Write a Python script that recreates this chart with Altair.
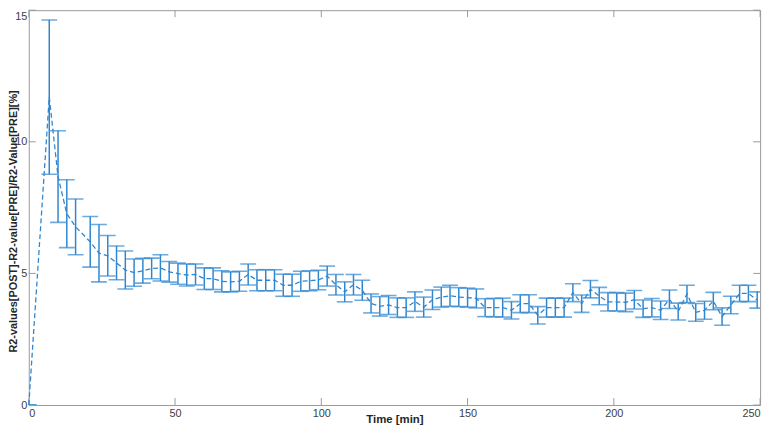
import altair as alt
import pandas as pd

times = [0, 7, 10, 13, 16, 21, 24, 27, 30, 33, 36, 39, 42, 45, 48, 51, 54, 57, 60, 63,
         66, 69, 72, 75, 78, 81, 84, 87, 90, 93, 96, 99, 102, 105, 108, 111, 114, 117,
         120, 123, 126, 129, 132, 135, 138, 141, 144, 147, 150, 153, 156, 159, 162, 165,
         168, 171, 174, 177, 180, 183, 186, 189, 192, 195, 198, 201, 204, 207, 210, 213,
         216, 219, 222, 225, 228, 231, 234, 237, 240, 243, 246, 249]

means = [0, 11.7, 8.68, 7.27, 6.77, 6.2, 5.77, 5.67, 5.4, 5.13, 5.03, 5.1, 5.19, 5.21,
         5.06, 4.99, 4.94, 4.96, 4.8, 4.8, 4.7, 4.68, 4.7, 4.96, 4.74, 4.74, 4.74, 4.55,
         4.55, 4.7, 4.72, 4.75, 4.9, 4.57, 4.3, 4.57, 4.36, 3.86, 3.75, 3.8, 3.7, 3.7,
         3.93, 3.72, 4.0, 4.1, 4.15, 4.1, 4.08, 4.05, 3.7, 3.7, 3.7, 3.6, 3.85, 3.85,
         3.41, 3.7, 3.7, 3.7, 4.27, 3.85, 4.4, 4.14, 3.92, 3.92, 3.9, 4.0, 3.66, 3.7,
         3.6, 4.02, 3.55, 4.22, 3.52, 3.6, 3.95, 3.36, 3.8, 4.24, 4.24, 3.99]

errs = [0, 2.93, 1.74, 1.29, 1.06, 0.96, 1.09, 0.77, 0.64, 0.72, 0.52, 0.47, 0.39, 0.5,
        0.39, 0.4, 0.42, 0.4, 0.41, 0.41, 0.4, 0.38, 0.38, 0.4, 0.4, 0.4, 0.4, 0.42,
        0.42, 0.38, 0.38, 0.37, 0.38, 0.39, 0.38, 0.39, 0.38, 0.36, 0.37, 0.36, 0.37, 0.37,
        0.37, 0.38, 0.37, 0.38, 0.4, 0.36, 0.36, 0.36, 0.34, 0.35, 0.36, 0.33, 0.34, 0.34,
        0.33, 0.36, 0.36, 0.36, 0.34, 0.33, 0.33, 0.33, 0.35, 0.35, 0.35, 0.35, 0.33, 0.35,
        0.35, 0.35, 0.32, 0.33, 0.34, 0.34, 0.33, 0.33, 0.33, 0.31, 0.31, 0.31]

x_ticks = [0, 50, 100, 150, 200, 250]
y_ticks = [0, 5, 10, 15]

X_TITLE = "Time [min]"
Y_TITLE = "R2-values[POST]-R2-value[PRE]/R2-Value[PRE][%]"

assert len(times) == len(means) == len(errs)

df = pd.DataFrame({"t": times, "m": means, "e": errs})
df["lo"] = df["m"] - df["e"]
df["hi"] = df["m"] + df["e"]

W, H = 739, 399
C = "#2f86cf"
G = "#9a9a9a"
FONT = "Liberation Sans"

xs = alt.Scale(domain=[0, 250], nice=False, zero=False)
ys = alt.Scale(domain=[0, 15], nice=False, zero=False)

xaxis = alt.Axis(values=x_ticks, ticks=False, domain=False, grid=False, labelPadding=3,
                 labelFont=FONT, labelFontSize=11, labelColor="#404040",
                 titleFont=FONT, titleFontSize=11.5, titleFontWeight="bold",
                 titleColor="#262626", titleY=9, titleBaseline="top")
yaxis = alt.Axis(values=y_ticks, ticks=False, domain=False, grid=False, labelPadding=2,
                 labelFont=FONT, labelFontSize=11, labelColor="#404040",
                 labelBaseline={"condition": {"test": "datum.value == 15", "value": "top"},
                                "value": "middle"},
                 titleFont=FONT, titleFontSize=11, titleFontWeight="bold",
                 titleColor="#262626", titleAngle=270, titleX=-15, titleY=213,
                 titleBaseline="middle", titleAlign="center")


def xe(f):
    return alt.X(f, type="quantitative", scale=xs, axis=xaxis, title=X_TITLE)


def ye(f):
    return alt.Y(f, type="quantitative", scale=ys, axis=yaxis, title=Y_TITLE)


base = alt.Chart(df)

bars = base.mark_rule(color=C, strokeWidth=1.5).encode(x=xe("t"), y=ye("lo"), y2="hi")
cap_lo = base.mark_tick(color=C, thickness=1.6, size=16, orient="horizontal",
                        clip=True).encode(x=xe("t"), y=ye("lo"))
cap_hi = base.mark_tick(color=C, thickness=1.6, size=16, orient="horizontal",
                        clip=True).encode(x=xe("t"), y=ye("hi"))
line = base.mark_line(color=C, strokeDash=[5, 3], strokeWidth=1.3).encode(
    x=xe("t"), y=ye("m"))

xt = alt.Chart(pd.DataFrame({"v": x_ticks}))
yt = alt.Chart(pd.DataFrame({"v": y_ticks}))
xt_bot = xt.mark_rule(color=G, strokeWidth=1).encode(
    x=xe("v"), y=alt.value(H), y2=alt.value(H - 7))
xt_top = xt.mark_rule(color=G, strokeWidth=1).encode(
    x=xe("v"), y=alt.value(0), y2=alt.value(7))
yt_left = yt.mark_rule(color=G, strokeWidth=1).encode(
    y=ye("v"), x=alt.value(0), x2=alt.value(7))
yt_right = yt.mark_rule(color=G, strokeWidth=1).encode(
    y=ye("v"), x=alt.value(W - 7), x2=alt.value(W))

chart = alt.layer(xt_bot, xt_top, yt_left, yt_right, bars, cap_lo, cap_hi, line).properties(
    width=W, height=H,
    autosize=alt.AutoSizeParams(type="none"),
    padding={"left": 21, "top": 0, "right": 10, "bottom": 21},
    background="white",
).configure_view(stroke=G, strokeWidth=1)

chart.save("out.html", embed_options={"renderer": "svg", "actions": False})
